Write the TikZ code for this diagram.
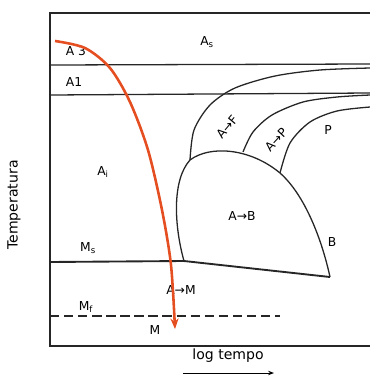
\documentclass[tikz,border=0pt]{standalone}
\usepackage{fontspec}
\setmainfont{DejaVu Sans}
\usepackage{tikz}
\usetikzlibrary{arrows.meta, calc}
\definecolor{coolred}{RGB}{228, 78, 32}

\tikzset{
  lbl/.style={font=\fontsize{10.5}{12}\selectfont, inner sep=1pt},
  boundary/.style={line width=1.1pt, black!85},
  cooling/.style={coolred, line width=2.2pt, -{Stealth[length=9pt, width=7pt]}}
}

\begin{document}
\begin{tikzpicture}[x=0.03cm, y=-0.03cm]
  \useasboundingbox (0,0) rectangle (370,380);

  % frame and critical temperatures
  \draw[boundary] (370,13) -- (50,13) -- (50,346) -- (370,346);
  \draw[boundary] (50,65) -- (370,64);
  \draw[boundary] (50,95) -- (370,93);

  % Ms line and bainite nose
  \draw[boundary, line width=1.6pt] (50,262) -- (184,261) -- (330,277);
  \draw[boundary] (184,261) .. controls (174,225) and (172,180) .. (190,160)
    .. controls (210,145) and (250,148) .. (280,173)
    .. controls (305,195) and (322,240) .. (330,277);

  % transformation curves
  \draw[boundary] plot[smooth] coordinates {(190,160) (194,130) (210,105) (235,88) (275,76) (320,70) (370,68)};
  \draw[boundary] plot[smooth] coordinates {(243,152) (253,132) (272,115) (303,102) (337,97) (370,95)};
  \draw[boundary] plot[smooth] coordinates {(280,173) (290,143) (310,122) (337,111) (370,107)};

  % Mf line
  \draw[boundary, dashed, dash pattern=on 8pt off 4pt] (50,316) -- (280,316);

  % labels
  \node[lbl] (as) at (207,42) {A\textsubscript{s}};
  \node[lbl] (a3) at (76,51) {A 3};
  \node[lbl] (a1) at (74,82) {A1};
  \node[lbl] (ai) at (103,172) {A\textsubscript{i}};
  \node[lbl] (ms) at (88,248) {M\textsubscript{s}};
  \node[lbl] (am) at (181,290) {A→M};
  \node[lbl] (mf) at (86,307) {M\textsubscript{f}};
  \node[lbl] (m) at (155,330) {M};
  \node[lbl, rotate=50] (af) at (227,127) {A→F};
  \node[lbl, rotate=47] (ap) at (276,140) {A→P};
  \node[lbl] (p) at (328,130) {P};
  \node[lbl] (ab) at (242,216) {A→B};
  \node[lbl] (b) at (332,242) {B};

  % axes titles
  \node[lbl, font=\fontsize{12}{14}\selectfont, rotate=90] (temp) at (14,205) {Temperatura};
  \node[lbl, font=\fontsize{12}{14}\selectfont] (tempo) at (228,356) {log tempo};
  \draw[-{Stealth[length=5pt]}, line width=0.8pt] (183,373) -- (274,373);

  % cooling curve
  \draw[cooling] plot[smooth] coordinates {(55,41) (85,48) (110,68) (130,102) (148,150) (162,210) (171,265) (175,329)};
\end{tikzpicture}
\end{document}
